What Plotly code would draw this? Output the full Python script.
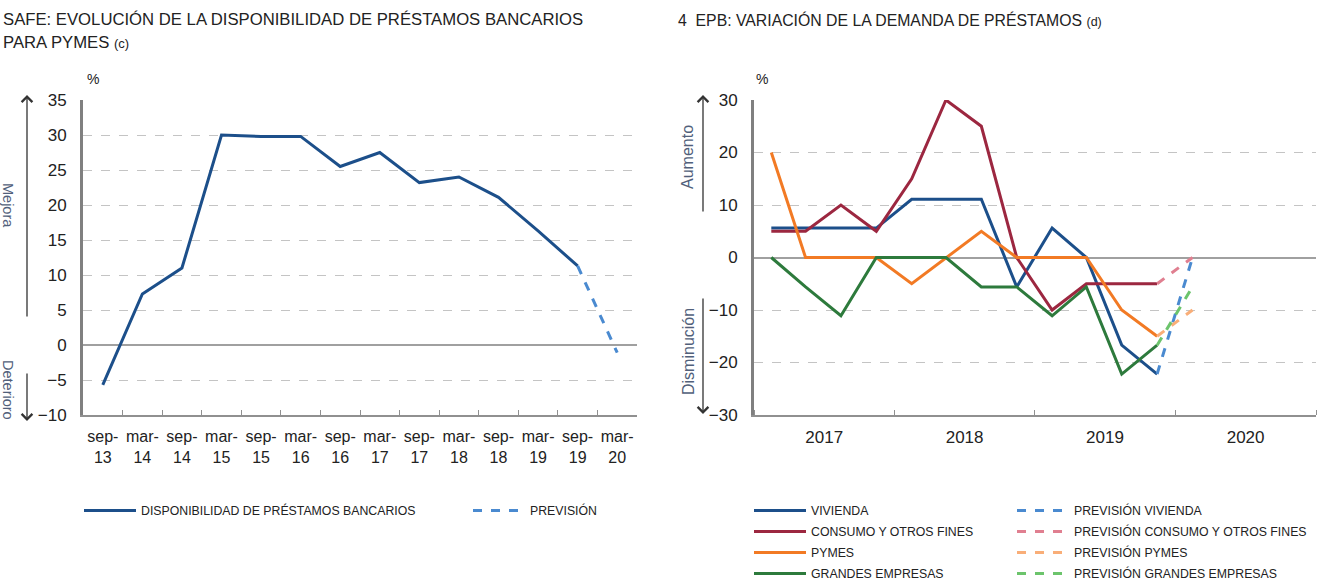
import plotly.graph_objects as go

W, H = 1317, 582

# --- left panel: SAFE
safe_periods = ["sep-13", "mar-14", "sep-14", "mar-15", "sep-15", "mar-16", "sep-16",
                "mar-17", "sep-17", "mar-18", "sep-18", "mar-19", "sep-19", "mar-20"]
safe_values = [-5.7, 7.3, 11.0, 30.0, 29.8, 29.8, 25.5, 27.5, 23.2, 24.0, 21.1, 16.3, 11.3]
safe_forecast = [-1.1]

# --- right panel: EPB (quarters 2017-2019, forecast 2020 Q1)
epb_quarters = ["2017-02-15", "2017-05-15", "2017-08-15", "2017-11-15",
                "2018-02-15", "2018-05-15", "2018-08-15", "2018-11-15",
                "2019-02-15", "2019-05-15", "2019-08-15", "2019-11-15"]
epb_forecast_quarter = "2020-02-15"
vivienda = [5.6, 5.6, 5.6, 5.6, 11.1, 11.1, 11.1, -5.6, 5.6, 0, -16.7, -22.2]
consumo = [5, 5, 10, 5, 15, 30, 25, 0, -10, -5, -5, -5]
pymes = [20, 0, 0, 0, -5, 0, 5, 0, 0, 0, -10, -15]
grandes = [0, -5.6, -11.1, 0, 0, 0, -5.6, -5.6, -11.1, -5.6, -22.2, -16.7]
forecast_2020 = {"VIVIENDA": 0, "CONSUMO Y OTROS FINES": 0, "PYMES": -10, "GRANDES EMPRESAS": -5.6}

series = [
    ("VIVIENDA", vivienda, "#1c4f8a", "#4a8ad0"),
    ("CONSUMO Y OTROS FINES", consumo, "#9c2740", "#e07f90"),
    ("PYMES", pymes, "#f27a24", "#f9ae78"),
    ("GRANDES EMPRESAS", grandes, "#2d7a3c", "#6cc46c"),
]

FONT = "Liberation Sans, Arial, sans-serif"
TXT = "#222222"

fig = go.Figure()

fig.add_trace(go.Scatter(
    x=safe_periods[:len(safe_values)], y=safe_values, mode="lines",
    line=dict(color="#1c4f8a", width=3), name="DISPONIBILIDAD DE PRÉSTAMOS BANCARIOS",
    xaxis="x", yaxis="y", legend="legend"))
fig.add_trace(go.Scatter(
    x=safe_periods[len(safe_values) - 1:], y=[safe_values[-1]] + safe_forecast, mode="lines",
    line=dict(color="#4a8ad0", width=3, dash="dash"), name="PREVISIÓN",
    xaxis="x", yaxis="y", legend="legend4"))

for name, vals, col, fcol in series:
    fig.add_trace(go.Scatter(
        x=epb_quarters, y=vals, mode="lines", name=name, legendgroup=name,
        line=dict(color=col, width=3), xaxis="x2", yaxis="y2", legend="legend2"))
    fig.add_trace(go.Scatter(
        x=[epb_quarters[-1], epb_forecast_quarter], y=[vals[-1], forecast_2020[name]],
        mode="lines", name="PREVISIÓN " + name, legendgroup="p" + name,
        line=dict(color=fcol, width=3, dash="dash"), xaxis="x2", yaxis="y2", legend="legend3"))


def px(x):
    return x / W


def py(y):
    return 1 - y / H


ydom = [py(415), py(100)]
grid = dict(showgrid=True, gridcolor="#c4c4c4", griddash="dash", gridwidth=1,
            zeroline=True, zerolinecolor="#a0a0a0", zerolinewidth=1.5,
            showline=True, linecolor="#808080", linewidth=3, ticks="", automargin=False,
            tickfont=dict(size=17, color=TXT, family=FONT), ticklabelstandoff=10)
xcommon = dict(ticks="inside", ticklen=5, tickcolor="#909090", tickangle=0, automargin=False,
               showline=True, linecolor="#909090", linewidth=2, showgrid=False,
               ticklabelstandoff=6)
leg = dict(xanchor="left", yanchor="top", font=dict(size=12.3, color=TXT, family=FONT),
           itemwidth=52, bgcolor="rgba(0,0,0,0)", tracegroupgap=2)

fig.update_layout(
    width=W, height=H, margin=dict(l=0, r=0, t=0, b=0, autoexpand=False),
    plot_bgcolor="white", paper_bgcolor="white",
    font=dict(family=FONT, color=TXT),
    xaxis=dict(domain=[px(83), px(637)], type="category", categoryorder="array",
               categoryarray=safe_periods, range=[-0.5, 13.5],
               tickvals=safe_periods, ticktext=[p.replace("-", "-<br>") for p in safe_periods],
               tickson="boundaries", tickfont=dict(size=16, color=TXT, family=FONT), **xcommon),
    yaxis=dict(domain=ydom, range=[-10, 35], dtick=5, **grid),
    xaxis2=dict(domain=[px(754), px(1316)], type="date", range=["2017-01-01", "2021-01-01"],
                dtick="M12", tick0="2017-01-01", tickformat="%Y", ticklabelmode="period",
                tickfont=dict(size=17, color=TXT, family=FONT), **xcommon),
    yaxis2=dict(domain=ydom, range=[-30, 30], dtick=10, anchor="x2", **grid),
    legend=dict(x=px(79), y=py(496), **leg),
    legend4=dict(x=px(468), y=py(496), **leg),
    legend2=dict(x=px(749), y=py(496), **leg),
    legend3=dict(x=px(1012), y=py(496), **leg),
    showlegend=True,
)

ann = []
# titles
ann.append(dict(text="SAFE: EVOLUCIÓN DE LA DISPONIBILIDAD DE PRÉSTAMOS BANCARIOS",
                x=px(1), y=py(20), xanchor="left", yanchor="middle", font=dict(size=16.7)))
ann.append(dict(text="PARA PYMES <span style='font-size:13px'>(c)</span>",
                x=px(1), y=py(43), xanchor="left", yanchor="middle", font=dict(size=16.7)))
ann.append(dict(text="4  EPB: VARIACIÓN DE LA DEMANDA DE PRÉSTAMOS <span style='font-size:12.5px'>(d)</span>",
                x=px(676), y=py(20), xanchor="left", yanchor="middle", font=dict(size=15.8)))
ann.append(dict(text="%", x=px(93), y=py(79), xanchor="center", yanchor="middle", font=dict(size=14)))
ann.append(dict(text="%", x=px(762), y=py(79), xanchor="center", yanchor="middle", font=dict(size=14)))
# arrows
for x0, head, tail in [(27, 95, 318), (27, 421, 372), (703, 95, 213), (703, 414, 297)]:
    ann.append(dict(text="", x=px(x0), y=py(head), showarrow=True, arrowhead=4,
                    arrowsize=1.6, arrowwidth=1.3, arrowcolor="#333333",
                    ax=0, ay=tail - head))
# direction labels
lab_l = dict(color="#51607a", size=14.5)
lab_r = dict(color="#51607a", size=16)
ann.append(dict(text="Mejora", x=px(8), y=py(205), textangle=90, font=lab_l))
ann.append(dict(text="Deterioro", x=px(8), y=py(390), textangle=90, font=lab_l))
ann.append(dict(text="Aumento", x=px(688), y=py(157), textangle=-90, font=lab_r))
ann.append(dict(text="Disminución", x=px(688), y=py(352), textangle=-90, font=lab_r))
for a in ann:
    a.setdefault("xref", "paper")
    a.setdefault("yref", "paper")
    a.setdefault("xanchor", "center")
    a.setdefault("yanchor", "middle")
    a.setdefault("showarrow", False)
fig.update_layout(annotations=ann)

fig.write_html("out.html", config={"displayModeBar": False},
               post_script="document.body.style.margin='0';")
